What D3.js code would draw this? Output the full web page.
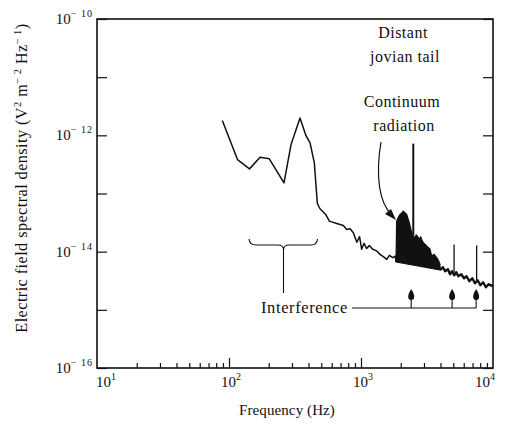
<!DOCTYPE html>
<html><head><meta charset="utf-8">
<script src="https://cdn.jsdelivr.net/npm/d3@7/dist/d3.min.js"></script>
<style>
body{margin:0;background:#fff}
svg{display:block}
text{font-family:"Liberation Serif","Times New Roman",serif;fill:#111}
</style>
</head><body>
<svg id="chart" width="505" height="426"></svg>
<script>
// ---------- data ----------
const xTickExps = [1, 2, 3, 4];
const yTickExps = [-16, -14, -12, -10];
const yAllExps = [-16, -15, -14, -13, -12, -11, -10];
const xMinorMult = [2, 3, 4, 5, 6, 7, 8, 9];

// broadband spectrum, low-frequency part (Hz, V^2 m^-2 Hz^-1)
const specFreq = [89, 116, 143, 172, 202, 261, 295, 345, 383, 411, 443, 467, 489, 540, 576,
  655, 735, 780, 826, 875, 930, 975, 1012, 1054, 1104, 1156, 1227, 1315, 1393, 1476, 1567, 1641, 1738, 1820, 1841];
const specVal = [1.80e-12, 3.83e-13, 2.65e-13, 4.19e-13, 3.94e-13, 1.52e-13, 6.92e-13, 1.99e-12, 9.86e-13, 7.40e-13,
  3.36e-13, 6.73e-14, 5.46e-14, 4.37e-14, 3.35e-14,
  3.05e-14, 2.82e-14, 2.41e-14, 2.48e-14, 2.12e-14, 1.45e-14, 1.81e-14, 1.10e-14, 1.39e-14, 1.13e-14, 1.28e-14,
  1.10e-14, 1.03e-14, 8.99e-15, 8.22e-15, 7.38e-15, 8.65e-15, 7.89e-15, 8.41e-15, 6.64e-15];

// continuum radiation (filled): upper envelope
const contFreq = [1841, 1862, 1920, 1972, 2030, 2089, 2150, 2218, 2323, 2421, 2470, 2563, 2620, 2671, 2767, 2834, 2900, 2965, 3050, 3147, 3334, 3434, 3575, 3745, 3850, 3965];
const contVal  = [6.64e-15, 3.35e-14, 3.9e-14, 4.37e-14, 4.6e-14, 4.97e-14, 4.7e-14, 4.37e-14, 3.14e-14, 2.12e-14, 1.9e-14, 1.74e-14, 1.95e-14, 1.85e-14, 1.63e-14, 1.81e-14, 1.55e-14, 1.43e-14, 1.35e-14, 1.25e-14, 1.10e-14, 8.41e-15, 8.99e-15, 7.91e-15, 7.2e-15, 6.07e-15];
// continuum lower edge (background level)
const baseFreq = [1841, 3965];
const baseVal  = [6.64e-15, 4.84e-15];

// high-frequency background
const tailFreq = [3965, 4178, 4335, 4555, 4725, 4900, 5080, 5270, 5460, 5760, 6030, 6300, 6620, 6970, 7300, 7650, 8020, 8420, 8830, 9260, 10000];
const tailVal  = [4.84e-15, 5.40e-15, 4.60e-15, 4.98e-15, 4.08e-15, 4.60e-15, 3.93e-15, 4.42e-15, 3.78e-15, 4.08e-15, 3.49e-15, 3.78e-15, 3.10e-15, 3.49e-15, 2.86e-15, 3.22e-15, 2.65e-15, 2.98e-15, 2.44e-15, 2.75e-15, 2.55e-15];

// narrow-band spikes
const spikeFreq = [2489, 5070, 7516];
const spikeTop  = [7.2e-13, 1.33e-14, 1.28e-14];
const spikeBase = [1.9e-14, 4.4e-15, 3.2e-15];

// interference markers
const interfFreq = [2400, 4900, 7450];

// ---------- chart ----------
const svg = d3.select("#chart");
const L = 97, R = 493, T = 19, B = 368;
const x = d3.scaleLog().domain([10, 1e4]).range([L, R]);
const y = d3.scaleLog().domain([1e-16, 1e-10]).range([B, T]);

// frame
svg.append("rect").attr("x", L).attr("y", T).attr("width", R - L).attr("height", B - T)
  .attr("fill", "none").attr("stroke", "#111").attr("stroke-width", 1.6);

// axes ticks (inward)
const yTicks = yAllExps.map(e => Math.pow(10, e));
svg.append("g").attr("transform", `translate(${L},0)`)
  .call(d3.axisLeft(y).tickValues(yTicks).tickSizeInner(-10).tickSizeOuter(0).tickFormat(""))
  .call(g => g.select(".domain").remove());
svg.append("g").attr("transform", `translate(${R},0)`)
  .call(d3.axisRight(y).tickValues(yTicks).tickSizeInner(-10).tickSizeOuter(0).tickFormat(""))
  .call(g => g.select(".domain").remove());
const xMinor = [];
[1, 2, 3].forEach(e => xMinorMult.forEach(m => xMinor.push(m * Math.pow(10, e))));
svg.append("g").attr("transform", `translate(0,${B})`)
  .call(d3.axisBottom(x).tickValues(xMinor).tickSizeInner(-5).tickSizeOuter(0).tickFormat(""))
  .call(g => g.select(".domain").remove());
svg.append("g").attr("transform", `translate(0,${B})`)
  .call(d3.axisBottom(x).tickValues([100, 1000]).tickSizeInner(-10).tickSizeOuter(0).tickFormat(""))
  .call(g => g.select(".domain").remove());
svg.selectAll(".tick line").attr("stroke", "#111").attr("stroke-width", 1.2);

// tick labels
yTickExps.forEach(e => {
  const t = svg.append("text").attr("x", 93).attr("y", y(Math.pow(10, e)) + 5)
    .attr("text-anchor", "end").attr("font-size", 15);
  t.append("tspan").text("10");
  t.append("tspan").attr("dy", -7).attr("font-size", 10).attr("letter-spacing", 1).text("− " + (-e));
});
xTickExps.forEach((e, i) => {
  const anchor = i === 0 ? "start" : (i === xTickExps.length - 1 ? "end" : "middle");
  const xx = x(Math.pow(10, e)) + (i === 0 ? -1 : 2);
  const t = svg.append("text").attr("x", xx).attr("y", 387)
    .attr("text-anchor", anchor).attr("font-size", 15);
  t.append("tspan").text("10");
  t.append("tspan").attr("dy", -7).attr("font-size", 10).text(e);
});

// axis titles
svg.append("text").attr("x", 287).attr("y", 415).attr("text-anchor", "middle")
  .attr("font-size", 15).attr("letter-spacing", 0.1).text("Frequency (Hz)");
const yt = svg.append("text").attr("transform", "translate(27,178) rotate(-90)")
  .attr("text-anchor", "middle").attr("font-size", 16.2).attr("letter-spacing", 0.45);
yt.append("tspan").text("Electric field spectral density (V");
yt.append("tspan").attr("dy", -6).attr("font-size", 10.5).text("2");
yt.append("tspan").attr("dy", 6).text(" m");
yt.append("tspan").attr("dy", -6).attr("font-size", 10.5).text("− 2");
yt.append("tspan").attr("dy", 6).text(" Hz");
yt.append("tspan").attr("dy", -6).attr("font-size", 10.5).text("− 1");
yt.append("tspan").attr("dy", 6).text(")");

// series
const line = d3.line().x(d => x(d[0])).y(d => y(d[1]));
const spec = specFreq.map((f, i) => [f, specVal[i]]);
svg.append("path").attr("d", line(spec)).attr("fill", "none").attr("stroke", "#111")
  .attr("stroke-width", 1.5).attr("stroke-linejoin", "round");

const contPoly = contFreq.map((f, i) => [f, contVal[i]])
  .concat(baseFreq.map((f, i) => [f, baseVal[i]]).reverse());
svg.append("path").attr("d", line(contPoly) + "Z").attr("fill", "#111").attr("stroke", "#111")
  .attr("stroke-width", 1.2).attr("stroke-linejoin", "round");

const tail = tailFreq.map((f, i) => [f, tailVal[i]]);
svg.append("path").attr("d", line(tail)).attr("fill", "none").attr("stroke", "#111")
  .attr("stroke-width", 2.4).attr("stroke-linejoin", "round");

spikeFreq.forEach((f, i) => {
  svg.append("line").attr("x1", x(f)).attr("x2", x(f))
    .attr("y1", y(spikeBase[i])).attr("y2", y(spikeTop[i]))
    .attr("stroke", "#111").attr("stroke-width", i === 0 ? 2 : 1.3);
});

// annotations
svg.append("text").attr("x", 403).attr("y", 38).attr("text-anchor", "middle").attr("font-size", 16).attr("letter-spacing", 0.5).text("Distant");
svg.append("text").attr("x", 405).attr("y", 62).attr("text-anchor", "middle").attr("font-size", 16).attr("letter-spacing", 0.5).text("jovian tail");
svg.append("text").attr("x", 402).attr("y", 107).attr("text-anchor", "middle").attr("font-size", 16).attr("letter-spacing", 0.5).text("Continuum");
svg.append("text").attr("x", 404).attr("y", 131).attr("text-anchor", "middle").attr("font-size", 16).attr("letter-spacing", 0.5).text("radiation");

// curved arrow to continuum
svg.append("path").attr("d", "M381,142 C375,178 380,203 391,214").attr("fill", "none")
  .attr("stroke", "#111").attr("stroke-width", 1.2);
svg.append("path").attr("d", "M396,220 L385,214 L391,209 Z").attr("fill", "#111");

// brace for low-frequency interference
svg.append("path")
  .attr("d", `M249,239 Q249.5,245 256,245 L278,245 Q283.5,245 283.5,250 Q283.5,245 289,245 L311,245 Q317,245 317.5,239`)
  .attr("fill", "none").attr("stroke", "#111").attr("stroke-width", 1.1);
svg.append("line").attr("x1", 283.5).attr("x2", 283.5).attr("y1", 250).attr("y2", 293)
  .attr("stroke", "#111").attr("stroke-width", 1.1);

svg.append("text").attr("x", 261).attr("y", 313).attr("font-size", 16.5).attr("letter-spacing", 0.6).text("Interference");
const xr = x(interfFreq[interfFreq.length - 1]);
svg.append("line").attr("x1", 352).attr("x2", xr).attr("y1", 308).attr("y2", 308)
  .attr("stroke", "#111").attr("stroke-width", 1.1);
interfFreq.forEach(f => {
  const xx = x(f);
  svg.append("line").attr("x1", xx).attr("x2", xx).attr("y1", 299).attr("y2", 308)
    .attr("stroke", "#111").attr("stroke-width", 1.1);
  svg.append("path").attr("d", `M${xx},289 C${xx + 4},295 ${xx + 4},300 ${xx},300 C${xx - 4},300 ${xx - 4},295 ${xx},289 Z`)
    .attr("fill", "#111");
});
</script>
</body></html>
